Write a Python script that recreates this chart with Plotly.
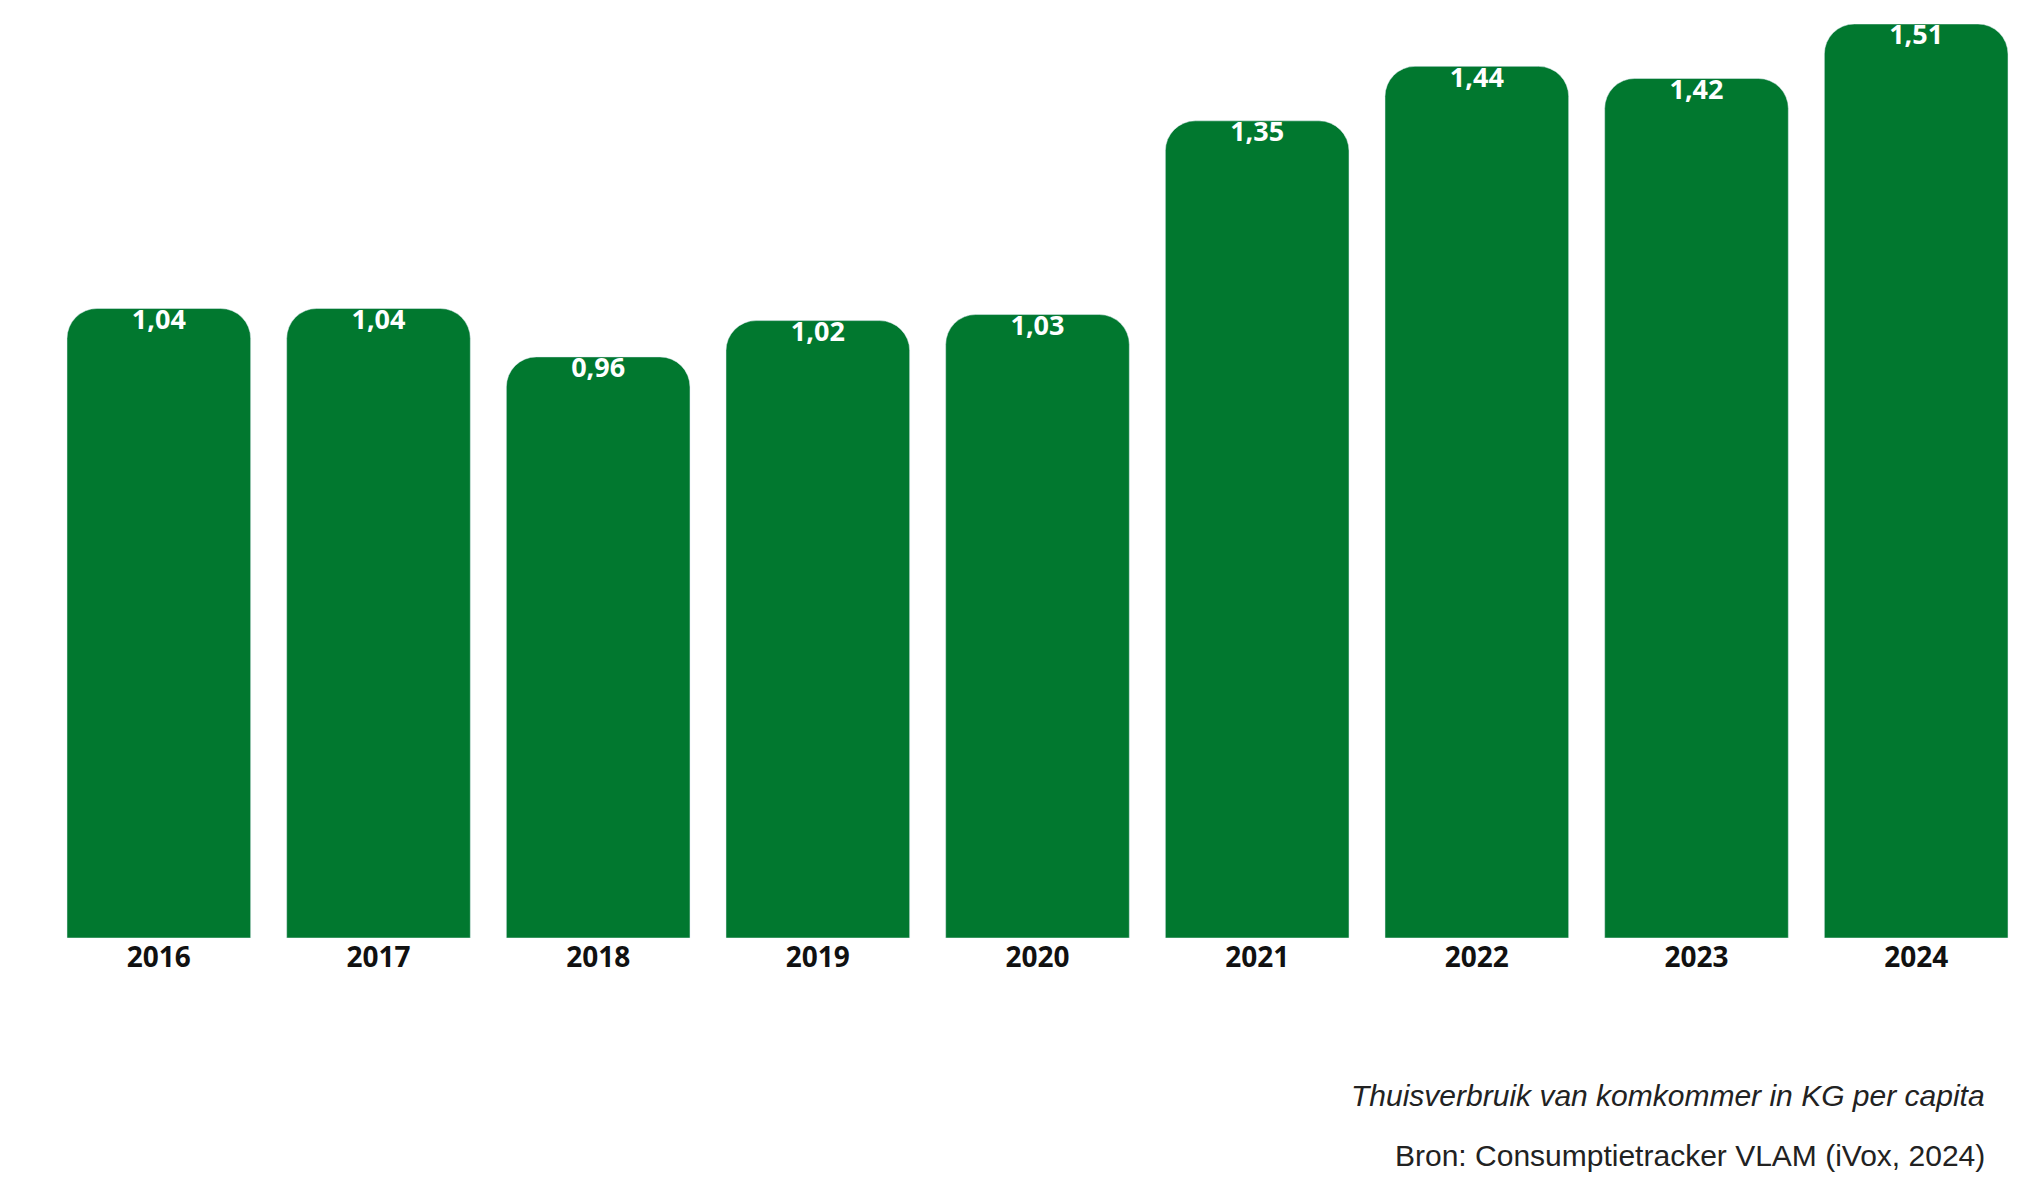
import plotly.graph_objects as go

years = ["2016","2017","2018","2019","2020","2021","2022","2023","2024"]
values = [1.04,1.04,0.96,1.02,1.03,1.35,1.44,1.42,1.51]
labels = [f"{v:.2f}".replace(".", ",") for v in values]

L, R, T, B = 41, 12, 16, 266
W, H = 2030, 1196
pw, ph = W - L - R, H - T - B

fig = go.Figure(go.Bar(
    x=years, y=values, marker=dict(color="#01782F", cornerradius=30), hoverinfo="skip"))
fig.add_trace(go.Scatter(
    x=years, y=values, text=labels, mode="text", textposition="bottom center",
    textfont=dict(color="white", size=27, family="Open Sans", weight="bold"), cliponaxis=False))
fig.update_layout(
    width=W, height=H, plot_bgcolor="white", paper_bgcolor="white",
    margin=dict(l=L, r=R, t=T, b=B), bargap=0.164, showlegend=False,
    xaxis=dict(showline=False, showgrid=False, ticks="",
               tickfont=dict(size=28, color="#111", family="Open Sans", weight="bold")),
    yaxis=dict(visible=False, range=[0, 1.51]))
base = H - B
for txt, ypx in [("<i>Thuisverbruik van komkommer in KG per capita</i>", 1087),
                 ("Bron: Consumptietracker VLAM (iVox, 2024)", 1147)]:
    fig.add_annotation(text=txt, xref="paper", yref="paper",
                       x=(1979 - L) / pw, y=(base - ypx) / ph, showarrow=False,
                       xanchor="right", yanchor="middle",
                       font=dict(size=30, family="Liberation Sans", color="#222"))
fig.write_html("out.html")
